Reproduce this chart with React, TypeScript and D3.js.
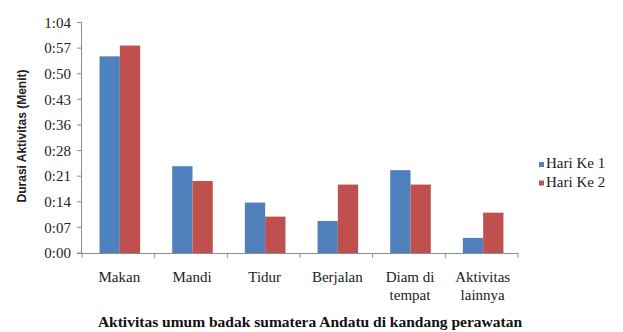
import React from "react";
import * as d3 from "d3";

const categories: string[][] = [
  ["Makan"],
  ["Mandi"],
  ["Tidur"],
  ["Berjalan"],
  ["Diam di", "tempat"],
  ["Aktivitas", "lainnya"],
];
const hari1: number[] = [54.6, 24.1, 14.0, 8.9, 23.0, 4.2];
const hari2: number[] = [57.6, 20.0, 10.1, 19.0, 19.0, 11.2];
const seriesNames: string[] = ["Hari Ke 1", "Hari Ke 2"];
const seriesColors: string[] = ["#4F81BD", "#C0504D"];
const yMax = 64;
const yTickCount = 9;
const yTicks: number[] = d3.range(yTickCount + 1).map((i) => (i * yMax) / yTickCount);

function fmt(v: number): string {
  const total = Math.round(v);
  const h = Math.floor(total / 60);
  const m = total % 60;
  return `${h}:${String(m).padStart(2, "0")}`;
}

export default function App() {
  const W = 623, H = 332;
  const left = 82, right = 518, top = 22.5, bottom = 253;
  const x = d3.scaleBand<number>().domain(d3.range(categories.length)).range([left, right]);
  const y = d3.scaleLinear().domain([0, yMax]).range([bottom, top]);
  const barW = 20.3;
  const serif = "'Liberation Serif', 'Times New Roman', serif";
  const series = [hari1, hari2];
  return (
    <svg width={W} height={H} style={{ position: "absolute", left: 0, top: 0, background: "#fff" }}>
      {/* y axis */}
      <line x1={left - 0.5} x2={left - 0.5} y1={top} y2={bottom} stroke="#8c8c8c" />
      {yTicks.map((t, i) => (
        <g key={i}>
          <line x1={left - 5} x2={left} y1={y(t)} y2={y(t)} stroke="#8c8c8c" />
          <text x={71} y={y(t)} dy="0.35em" textAnchor="end" fontFamily={serif} fontSize={15} fill="#222">
            {fmt(t)}
          </text>
        </g>
      ))}
      {/* bars */}
      {series.map((s, si) =>
        s.map((v, ci) => {
          const cx = (x(ci) as number) + x.bandwidth() / 2 + 1.5;
          const bx = cx - barW + si * barW;
          return (
            <rect key={`${si}-${ci}`} x={bx} y={y(v)} width={barW} height={bottom - y(v)} fill={seriesColors[si]} />
          );
        })
      )}
      {/* x axis */}
      <line x1={left - 5} x2={right} y1={bottom + 0.5} y2={bottom + 0.5} stroke="#8c8c8c" />
      {d3.range(categories.length + 1).map((i) => {
        const xx = i < categories.length ? (x(i) as number) : right;
        return <line key={i} x1={xx} x2={xx} y1={bottom} y2={bottom + 5} stroke="#8c8c8c" />;
      })}
      {categories.map((lines, ci) => (
        <text
          key={ci}
          x={(x(ci) as number) + x.bandwidth() / 2 + 1}
          y={282}
          textAnchor="middle"
          fontFamily={serif}
          fontSize={15}
          fill="#222"
        >
          {lines.map((l, li) => (
            <tspan key={li} x={(x(ci) as number) + x.bandwidth() / 2 + 1} dy={li === 0 ? 0 : 18}>
              {l}
            </tspan>
          ))}
        </text>
      ))}
      {/* y title */}
      <text
        transform={`translate(26,136) rotate(-90)`}
        textAnchor="middle"
        fontFamily="'Liberation Sans', Arial, sans-serif"
        fontWeight="bold"
        fontSize={12}
        fill="#222"
      >
        Durasi Aktivitas (Menit)
      </text>
      {/* x title */}
      <text x={310} y={327} textAnchor="middle" fontFamily={serif} fontWeight="bold" fontSize={15.5} fill="#111">
        Aktivitas umum badak sumatera Andatu di kandang perawatan
      </text>
      {/* legend */}
      {seriesNames.map((n, i) => (
        <g key={n}>
          <rect x={539} y={162 + i * 18.5} width={5} height={5} fill={seriesColors[i]} />
          <text x={546} y={168 + i * 18.5} fontFamily={serif} fontSize={15} fill="#222">
            {n}
          </text>
        </g>
      ))}
    </svg>
  );
}
